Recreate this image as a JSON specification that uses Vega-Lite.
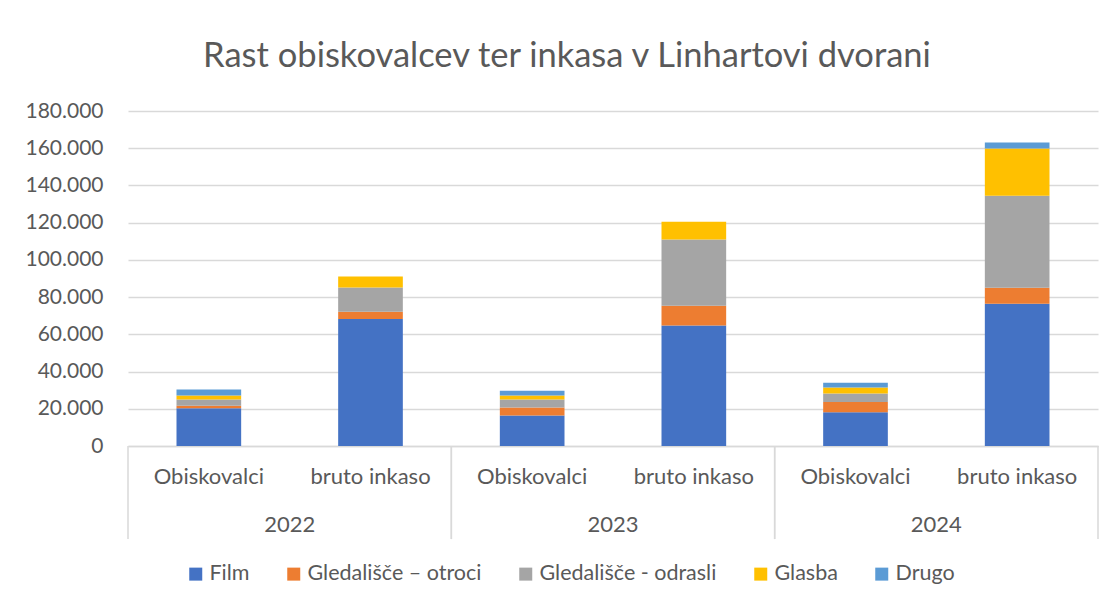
{
  "$schema": "https://vega.github.io/schema/vega-lite/v6.json",
  "width": 970,
  "height": 335,
  "autosize": {"type": "none"},
  "padding": {"left": 128, "top": 111, "right": 15, "bottom": 159},
  "background": "white",
  "config": {
    "locale": {"number": {"decimal": ",", "thousands": ".", "grouping": [3], "currency": ["", " €"]}},
    "view": {"stroke": null},
    "font": "Lato"
  },
  "title": {
    "text": "Rast obiskovalcev ter inkasa v Linhartovi dvorani",
    "font": "Lato",
    "fontSize": 34.5,
    "fontWeight": "normal",
    "color": "#595959",
    "anchor": "middle",
    "dx": -46,
    "offset": 26
  },
  "datasets": {
    "bars": [
      {"year": "2022", "kat": "2022|Obiskovalci", "series": "Film", "ord": 1, "value": 20300},
      {"year": "2022", "kat": "2022|Obiskovalci", "series": "Gledališče – otroci", "ord": 2, "value": 1300},
      {"year": "2022", "kat": "2022|Obiskovalci", "series": "Gledališče - odrasli", "ord": 3, "value": 3400},
      {"year": "2022", "kat": "2022|Obiskovalci", "series": "Glasba", "ord": 4, "value": 2100},
      {"year": "2022", "kat": "2022|Obiskovalci", "series": "Drugo", "ord": 5, "value": 3200},
      {"year": "2022", "kat": "2022|bruto inkaso", "series": "Film", "ord": 1, "value": 68300},
      {"year": "2022", "kat": "2022|bruto inkaso", "series": "Gledališče – otroci", "ord": 2, "value": 3900},
      {"year": "2022", "kat": "2022|bruto inkaso", "series": "Gledališče - odrasli", "ord": 3, "value": 13000},
      {"year": "2022", "kat": "2022|bruto inkaso", "series": "Glasba", "ord": 4, "value": 5900},
      {"year": "2023", "kat": "2023|Obiskovalci", "series": "Film", "ord": 1, "value": 16400},
      {"year": "2023", "kat": "2023|Obiskovalci", "series": "Gledališče – otroci", "ord": 2, "value": 4300},
      {"year": "2023", "kat": "2023|Obiskovalci", "series": "Gledališče - odrasli", "ord": 3, "value": 4300},
      {"year": "2023", "kat": "2023|Obiskovalci", "series": "Glasba", "ord": 4, "value": 2150},
      {"year": "2023", "kat": "2023|Obiskovalci", "series": "Drugo", "ord": 5, "value": 2550},
      {"year": "2023", "kat": "2023|bruto inkaso", "series": "Film", "ord": 1, "value": 64700},
      {"year": "2023", "kat": "2023|bruto inkaso", "series": "Gledališče – otroci", "ord": 2, "value": 10600},
      {"year": "2023", "kat": "2023|bruto inkaso", "series": "Gledališče - odrasli", "ord": 3, "value": 35700},
      {"year": "2023", "kat": "2023|bruto inkaso", "series": "Glasba", "ord": 4, "value": 9500},
      {"year": "2024", "kat": "2024|Obiskovalci", "series": "Film", "ord": 1, "value": 18200},
      {"year": "2024", "kat": "2024|Obiskovalci", "series": "Gledališče – otroci", "ord": 2, "value": 5400},
      {"year": "2024", "kat": "2024|Obiskovalci", "series": "Gledališče - odrasli", "ord": 3, "value": 4650},
      {"year": "2024", "kat": "2024|Obiskovalci", "series": "Glasba", "ord": 4, "value": 3250},
      {"year": "2024", "kat": "2024|Obiskovalci", "series": "Drugo", "ord": 5, "value": 2500},
      {"year": "2024", "kat": "2024|bruto inkaso", "series": "Film", "ord": 1, "value": 76400},
      {"year": "2024", "kat": "2024|bruto inkaso", "series": "Gledališče – otroci", "ord": 2, "value": 8600},
      {"year": "2024", "kat": "2024|bruto inkaso", "series": "Gledališče - odrasli", "ord": 3, "value": 49400},
      {"year": "2024", "kat": "2024|bruto inkaso", "series": "Glasba", "ord": 4, "value": 25500},
      {"year": "2024", "kat": "2024|bruto inkaso", "series": "Drugo", "ord": 5, "value": 3200}
    ],
    "years": [{"year": "2022"}, {"year": "2023"}, {"year": "2024"}]
  },
  "layer": [
    {
      "data": {"name": "bars"},
      "mark": {"type": "bar"},
      "encoding": {
        "x": {
          "field": "kat",
          "type": "nominal",
          "sort": null,
          "scale": {"type": "band", "paddingInner": 0.6, "paddingOuter": 0.3},
          "axis": {
            "title": null,
            "orient": "bottom",
            "labelExpr": "split(datum.label, '|')[1]",
            "labelAngle": 0,
            "labelFont": "Lato",
            "labelFontSize": 22,
            "labelColor": "#595959",
            "labelPadding": 20,
            "ticks": false,
            "tickSize": 0,
            "domain": true,
            "domainColor": "#d9d9d9",
            "domainWidth": 1.5,
            "grid": false
          }
        },
        "y": {
          "field": "value",
          "type": "quantitative",
          "stack": "zero",
          "scale": {"domain": [0, 180000], "nice": false},
          "axis": {
            "title": null,
            "tickCount": 9,
            "format": ",d",
            "labelFont": "Lato",
            "labelFontSize": 21,
            "labelColor": "#595959",
            "labelPadding": 25,
            "ticks": false,
            "domain": false,
            "grid": true,
            "gridColor": "#d9d9d9",
            "gridWidth": 1.5
          }
        },
        "order": {"field": "ord", "type": "quantitative", "sort": "ascending"},
        "color": {
          "field": "series",
          "type": "nominal",
          "sort": ["Film", "Gledališče – otroci", "Gledališče - odrasli", "Glasba", "Drugo"],
          "scale": {
            "domain": ["Film", "Gledališče – otroci", "Gledališče - odrasli", "Glasba", "Drugo"],
            "range": ["#4472C4", "#ED7D31", "#A5A5A5", "#FFC000", "#5B9BD5"]
          },
          "legend": {
            "title": null,
            "orient": "none",
            "direction": "horizontal",
            "legendX": 57,
            "legendY": 452,
            "padding": 0,
            "symbolType": "square",
            "symbolSize": 169,
            "symbolStrokeWidth": 0,
            "labelFont": "Lato",
            "labelFontSize": 21.5,
            "labelColor": "#595959",
            "labelLimit": 0,
            "labelOffset": 3,
            "columnPadding": 33
          }
        }
      }
    },
    {
      "data": {"name": "years"},
      "mark": {"type": "rule", "color": "#d9d9d9", "strokeWidth": 1.5},
      "encoding": {
        "x": {
          "field": "year",
          "type": "nominal",
          "bandPosition": 0,
          "scale": {"type": "band", "paddingInner": 0, "paddingOuter": 0},
          "axis": {
            "title": null,
            "orient": "bottom",
            "labelAngle": 0,
            "labelFont": "Lato",
            "labelFontSize": 22,
            "labelColor": "#595959",
            "labelPadding": 68,
            "ticks": false,
            "tickSize": 0,
            "domain": false,
            "grid": false
          }
        },
        "y": {"datum": 0},
        "y2": {"datum": -50000}
      }
    },
    {
      "data": {"name": "years"},
      "mark": {"type": "rule", "color": "#d9d9d9", "strokeWidth": 1.5},
      "encoding": {
        "x": {
          "field": "year",
          "type": "nominal",
          "bandPosition": 1,
          "scale": {"type": "band", "paddingInner": 0, "paddingOuter": 0},
          "axis": null
        },
        "y": {"datum": 0},
        "y2": {"datum": -50000}
      }
    }
  ],
  "resolve": {"scale": {"x": "independent"}, "axis": {"x": "independent"}}
}
